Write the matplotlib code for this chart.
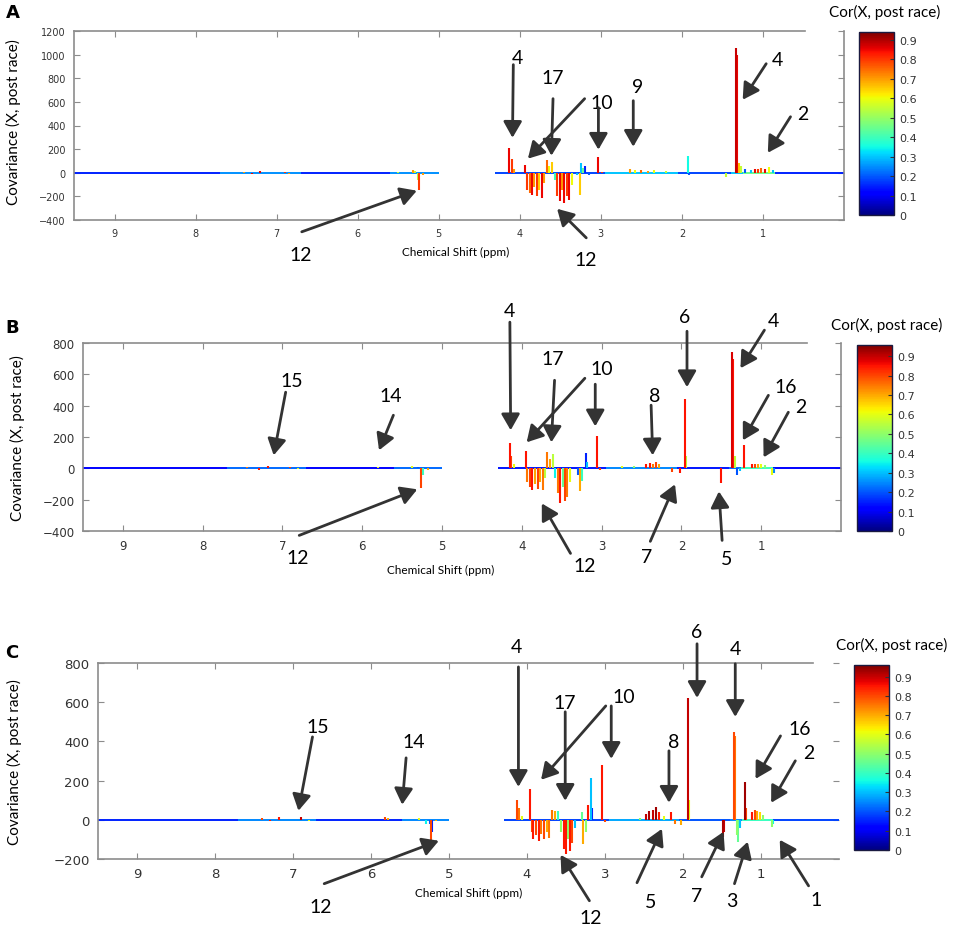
import numpy as np
import matplotlib

matplotlib.use("Agg")

import matplotlib.pyplot as plt  # noqa: E402
from matplotlib.collections import LineCollection  # noqa: E402
from matplotlib.colors import Normalize  # noqa: E402
from matplotlib.cm import ScalarMappable  # noqa: E402

NUM_FONT = ["Lato", "DejaVu Sans"]
CMAP = plt.get_cmap("jet")
ARROW_COLOR = "#333333"
SPINE_COLOR = "#8c8c8c"

# ---- peaks: chemical shift (ppm), covariance, correlation -------------------
A_PPM = [7.40, 7.30, 7.20, 6.90, 6.85, 5.50, 5.32, 5.29, 5.25, 5.24, 5.20,
         4.13, 4.10, 4.07, 3.93, 3.91, 3.88, 3.85, 3.82, 3.79, 3.76, 3.73, 3.70,
         3.66, 3.64, 3.60, 3.57, 3.54, 3.51, 3.48, 3.45, 3.42, 3.39, 3.36, 3.30,
         3.26, 3.25, 3.22, 3.19, 3.15, 3.04, 2.98, 2.64, 2.58, 2.50, 2.42, 2.35,
         2.20, 1.92, 1.91, 1.46, 1.33, 1.32, 1.30, 1.27, 1.22, 1.15, 1.10, 1.06,
         1.02, 0.97, 0.92, 0.88]
A_COV = [8, -8, 12, 10, -8, 10, 25, 15, -60, -144, -15,
         212, 120, 30, 68, -150, -175, -190, -120, -200, -150, -210, -90,
         110, 60, 90, -60, -200, -240, -150, -254, -200, -230, -100, -20,
         -186, 85, 40, 60, -20, 136, 10, 30, 20, 25, 15, 20,
         15, 140, -15, -35, 1059, 1000, 80, 60, 30, 20, 30, 35,
         40, 30, 45, 20]
A_COR = [0.70, 0.85, 0.85, 0.80, 0.70, 0.55, 0.70, 0.55, 0.55, 0.80, 0.70,
         0.85, 0.80, 0.70, 0.85, 0.80, 0.75, 0.85, 0.70, 0.80, 0.65, 0.85, 0.70,
         0.75, 0.60, 0.65, 0.40, 0.80, 0.85, 0.70, 0.85, 0.80, 0.85, 0.60, 0.30,
         0.65, 0.30, 0.45, 0.15, 0.20, 0.85, 0.80, 0.70, 0.60, 0.75, 0.70, 0.60,
         0.55, 0.35, 0.20, 0.55, 0.88, 0.85, 0.65, 0.55, 0.20, 0.30, 0.85, 0.80,
         0.75, 0.85, 0.60, 0.30]

B_PPM = [7.45, 7.30, 7.18, 6.90, 6.80, 5.80, 5.38, 5.30, 5.26, 5.24, 5.18,
         4.15, 4.13, 4.10, 3.95, 3.93, 3.90, 3.87, 3.83, 3.80, 3.77, 3.74, 3.71,
         3.68, 3.65, 3.61, 3.58, 3.55, 3.52, 3.49, 3.46, 3.43, 3.40, 3.30, 3.27,
         3.24, 3.20, 3.18, 3.06, 3.02, 2.75, 2.60, 2.45, 2.40, 2.36, 2.32, 2.28,
         2.12, 2.02, 1.95, 1.94, 1.51, 1.36, 1.35, 1.33, 1.30, 1.27, 1.22, 1.12,
         1.08, 1.04, 1.00, 0.95, 0.86, 0.84]
B_COV = [8, -10, 15, 10, -5, 8, 12, 8, -128, -40, -8,
         160, 80, 25, 109, -90, -120, -140, -100, -130, -90, -140, -60,
         102, 60, 90, -60, -160, -224, -120, -210, -180, -90, -40, -147,
         -80, 96, 40, 205, -10, 15, 15, 25, 35, 30, 40, 25,
         -25, -30, 441, 80, -96, 741, 700, 80, -45, -20, 147, 25,
         30, 25, 30, 20, -45, -30]
B_COR = [0.75, 0.85, 0.85, 0.80, 0.60, 0.60, 0.60, 0.20, 0.80, 0.40, 0.70,
         0.85, 0.80, 0.60, 0.85, 0.75, 0.80, 0.85, 0.70, 0.80, 0.70, 0.75, 0.55,
         0.75, 0.70, 0.55, 0.35, 0.75, 0.85, 0.45, 0.80, 0.75, 0.60, 0.20, 0.70,
         0.40, 0.15, 0.30, 0.85, 0.80, 0.60, 0.50, 0.85, 0.85, 0.75, 0.80, 0.70,
         0.80, 0.85, 0.85, 0.55, 0.85, 0.88, 0.85, 0.55, 0.20, 0.30, 0.85, 0.85,
         0.80, 0.70, 0.60, 0.50, 0.60, 0.25]

C_PPM = [7.40, 7.30, 7.18, 6.90, 6.80, 5.82, 5.78, 5.38, 5.30, 5.25, 5.23,
         5.22, 5.17, 4.13, 4.10, 4.07, 3.96, 3.94, 3.92, 3.88, 3.85, 3.82, 3.78,
         3.75, 3.72, 3.68, 3.64, 3.60, 3.56, 3.53, 3.50, 3.48, 3.45, 3.42, 3.38,
         3.30, 3.28, 3.25, 3.22, 3.18, 3.17, 3.04, 3.00, 2.55, 2.47, 2.43, 2.38,
         2.35, 2.31, 2.25, 2.15, 2.10, 2.02, 1.93, 1.92, 1.49, 1.47, 1.34, 1.33,
         1.31, 1.30, 1.27, 1.21, 1.19, 1.12, 1.08, 1.05, 1.01, 0.97, 0.86, 0.84]
C_COV = [8, -8, 15, 12, -8, 15, 10, 10, -20, -20, -107,
         -60, -8, 100, 60, 20, 158, -60, -100, -80, -107, -70, -100,
         -60, -95, 50, 45, 45, -60, -150, -173, -100, -160, -120, -40,
         40, -122, -60, 77, 214, 60, 281, -10, 10, 30, 45, 50,
         66, 40, 20, 41, -20, -25, 622, 100, -87, -60, 449, 430,
         -80, -112, -40, 194, 60, 40, 50, 45, 40, 25, -36, -20]
C_COR = [0.80, 0.85, 0.85, 0.90, 0.60, 0.80, 0.70, 0.60, 0.35, 0.20, 0.80,
         0.15, 0.70, 0.80, 0.75, 0.60, 0.85, 0.80, 0.85, 0.80, 0.85, 0.75, 0.80,
         0.70, 0.75, 0.75, 0.70, 0.40, 0.50, 0.85, 0.85, 0.50, 0.85, 0.80, 0.30,
         0.45, 0.70, 0.50, 0.85, 0.30, 0.15, 0.85, 0.80, 0.50, 0.90, 0.92, 0.90,
         0.93, 0.85, 0.60, 0.85, 0.75, 0.70, 0.90, 0.60, 0.92, 0.90, 0.80, 0.75,
         0.50, 0.45, 0.30, 0.93, 0.80, 0.85, 0.80, 0.70, 0.65, 0.50, 0.50, 0.35]

# ---- baseline: segment edges (ppm) and correlation of each segment ----------
BASE_EDGES = [9.5, 7.7, 6.7, 5.6, 5.0, 4.3, 2.95, 2.05, 1.4, 1.25, 0.85, 0.0]
A_BASE_COR = [0.15, 0.25, 0.15, 0.25, np.nan, 0.18, 0.30, 0.18, 0.30, 0.45, 0.15]
B_BASE_COR = [0.12, 0.22, 0.12, 0.22, np.nan, 0.14, 0.25, 0.14, 0.22, 0.40, 0.12]
C_BASE_COR = [0.15, 0.25, 0.15, 0.25, np.nan, 0.18, 0.28, 0.20, 0.25, 0.40, 0.18]

X_TICKS = [9, 8, 7, 6, 5, 4, 3, 2, 1]
A_YTICKS = [-400, -200, 0, 200, 400, 600, 800, 1000, 1200]
B_YTICKS = [-400, -200, 0, 200, 400, 600, 800]
C_YTICKS = [-200, 0, 200, 400, 600, 800]
CBAR_TICKS = [0, 0.1, 0.2, 0.3, 0.4, 0.5, 0.6, 0.7, 0.8, 0.9]
A_CMAX, B_CMAX, C_CMAX = 0.94, 0.957, 0.96

# ---- annotations: label, text position, list of (tail, tip), in data units --
A_NOTES = [
    ("4", (4.03, 974), [((4.08, 915), (4.09, 296))]),
    ("17", (3.59, 805), [((3.59, 627), (3.61, 144))]),
    ("10", (2.99, 593), [((3.20, 627), (3.90, 119)), ((3.03, 551), (3.03, 195))]),
    ("9", (2.55, 728), [((2.60, 610), (2.60, 220))]),
    ("4", (0.82, 957), [((0.96, 923), (1.25, 618))]),
    ("2", (0.51, 500), [((0.66, 474), (0.94, 169))]),
    ("12", (3.19, -737), [((3.18, -551), (3.54, -305))]),
    ("12", (6.70, -695), [((6.69, -500), (5.27, -152))]),
]
B_NOTES = [
    ("4", (4.16, 1010), [((4.15, 933), (4.14, 243))]),
    ("17", (3.61, 703), [((3.59, 562), (3.63, 166))]),
    ("10", (3.00, 639), [((3.21, 575), (3.94, 166)), ((3.08, 537), (3.08, 268))]),
    ("8", (2.33, 466), [((2.38, 403), (2.36, 83))]),
    ("6", (1.96, 971), [((1.93, 875), (1.93, 518))]),
    ("4", (0.85, 946), [((0.96, 882), (1.26, 639))]),
    ("16", (0.69, 524), [((0.91, 466), (1.23, 179))]),
    ("2", (0.50, 396), [((0.66, 358), (0.97, 70))]),
    ("12", (3.21, -620), [((3.39, -543), (3.75, -224))]),
    ("7", (2.43, -562), [((2.39, -466), (2.08, -102))]),
    ("5", (1.43, -575), [((1.49, -460), (1.53, -147))]),
    ("12", (6.81, -569), [((6.79, -428), (5.31, -134))]),
    ("15", (6.88, 562), [((6.96, 486), (7.11, 83))]),
    ("14", (5.64, 466), [((5.61, 339), (5.79, 115))]),
]
C_NOTES = [
    ("4", (4.14, 882), [((4.11, 780), (4.11, 168))]),
    ("17", (3.52, 597), [((3.51, 551), (3.51, 97))]),
    ("10", (2.76, 627), [((2.99, 581), (3.82, 204)), ((2.92, 581), (2.92, 311))]),
    ("8", (2.12, 398), [((2.18, 352), (2.18, 87))]),
    ("6", (1.82, 959), [((1.82, 898), (1.82, 622))]),
    ("4", (1.33, 872), [((1.33, 796), (1.33, 525))]),
    ("16", (0.50, 464), [((0.75, 428), (1.07, 209))]),
    ("2", (0.39, 342), [((0.56, 301), (0.87, 87))]),
    ("12", (3.18, -500), [((3.20, -413), (3.57, -179))]),
    ("5", (2.41, -418), [((2.59, -321), (2.27, -46))]),
    ("7", (1.82, -388), [((1.76, -291), (1.48, -61))]),
    ("3", (1.38, -413), [((1.34, -326), (1.17, -112))]),
    ("1", (0.30, -408), [((0.39, -337), (0.76, -102))]),
    ("12", (6.65, -444), [((6.60, -326), (5.13, -107))]),
    ("15", (6.68, 474), [((6.75, 423), (6.93, 46))]),
    ("14", (5.45, 398), [((5.55, 316), (5.60, 77))]),
]


def draw_panel(fig, rect, cax_rect, ppm, cov, cor, base_cor, yticks, cmax,
               notes, tick_size, top_frac, right_spine):
    ax = fig.add_axes(rect)
    norm = Normalize(vmin=0, vmax=cmax)

    # baseline segments at zero
    segs, cols = [], []
    for x0, x1, c in zip(BASE_EDGES[:-1], BASE_EDGES[1:], base_cor):
        if np.isnan(c):
            continue
        segs.append([(x0, 0), (x1, 0)])
        cols.append(CMAP(norm(c)))
    ax.add_collection(LineCollection(segs, colors=cols, linewidths=1.4, zorder=2))

    # peaks as spikes, sorted so that strong correlations sit on top
    order = np.argsort(cor)
    ppm, cov, cor = np.asarray(ppm)[order], np.asarray(cov)[order], np.asarray(cor)[order]
    ax.vlines(ppm, 0, cov, colors=CMAP(norm(cor)), linewidths=1.5, zorder=3)

    ax.set_xlim(9.5, 0)
    ax.set_ylim(yticks[0], yticks[-1])
    ax.set_xticks(X_TICKS)
    ax.set_yticks(yticks)
    ax.tick_params(direction="in", length=4, width=0.8, color=SPINE_COLOR,
                   labelcolor="#333333", labelsize=tick_size, top=True, right=True,
                   pad=6)
    for s in ("left", "bottom", "right"):
        ax.spines[s].set_color(SPINE_COLOR)
        ax.spines[s].set_linewidth(1.2)
    ax.spines["right"].set_visible(right_spine)
    ax.spines["top"].set_visible(False)
    ax.plot([0, top_frac], [1, 1], transform=ax.transAxes, color=SPINE_COLOR,
            lw=1.2, clip_on=False)

    for label, txy, arrows in notes:
        ax.text(*txy, label, ha="center", va="center", fontsize=14,
                family=NUM_FONT, color="black")
        for tail, tip in arrows:
            ax.annotate("", xy=tip, xytext=tail, annotation_clip=False,
                        arrowprops=dict(arrowstyle="-|>,head_length=0.7,head_width=0.4",
                                        mutation_scale=14, lw=2.0, color=ARROW_COLOR,
                                        shrinkA=0, shrinkB=0))

    cax = fig.add_axes(cax_rect)
    cb = fig.colorbar(ScalarMappable(norm=norm, cmap=CMAP), cax=cax, ticks=CBAR_TICKS)
    cb.ax.set_yticklabels([f"{t:g}" for t in CBAR_TICKS])
    cb.ax.tick_params(labelsize=8, length=3, color="#333333", labelcolor="#333333",
                      direction="in")
    cb.outline.set_edgecolor("#1a1a40")
    cb.outline.set_linewidth(1.0)
    return ax


fig = plt.figure(figsize=(9.57, 9.28), dpi=100)
W, H = 957, 928


def frect(x0, y0, x1, y1):
    """Pixel box (top-left origin) to figure fraction rect."""
    return (x0 / W, 1 - y1 / H, (x1 - x0) / W, (y1 - y0) / H)


draw_panel(fig, frect(74, 32, 844, 221), frect(859, 33, 894, 216),
           A_PPM, A_COV, A_COR, A_BASE_COR, A_YTICKS, A_CMAX, A_NOTES, 7, 0.949, True)
draw_panel(fig, frect(83, 344, 841, 532), frect(857, 346, 892, 532),
           B_PPM, B_COV, B_COR, B_BASE_COR, B_YTICKS, B_CMAX, B_NOTES, 8.5, 0.955, True)
draw_panel(fig, frect(98, 664, 839, 860), frect(854, 666, 889, 851),
           C_PPM, C_COV, C_COR, C_BASE_COR, C_YTICKS, C_CMAX, C_NOTES, 9.5, 0.965, False)

# panel letters, axis labels, colorbar titles
for letter, (px, py) in zip("ABC", [(13, 13), (12, 328), (12, 653)]):
    fig.text(px / W, 1 - py / H, letter, fontsize=13, fontweight="bold",
             ha="center", va="center", family="DejaVu Sans")
for (px, py) in [(13, 122), (17, 438), (14, 762)]:
    fig.text(px / W, 1 - py / H, "Covariance (X, post race)", rotation=90,
             fontsize=11, ha="center", va="center", family=NUM_FONT)
for (px, py) in [(456, 252), (441, 570), (469, 893)]:
    fig.text(px / W, 1 - py / H, "Chemical Shift (ppm)", fontsize=8.5,
             ha="center", va="center", family=NUM_FONT)
for (px, py) in [(885, 12), (887, 325), (892, 645)]:
    fig.text(px / W, 1 - py / H, "Cor(X, post race)", fontsize=11,
             ha="center", va="center", family=NUM_FONT)

fig.savefig("out.png", dpi=100)
